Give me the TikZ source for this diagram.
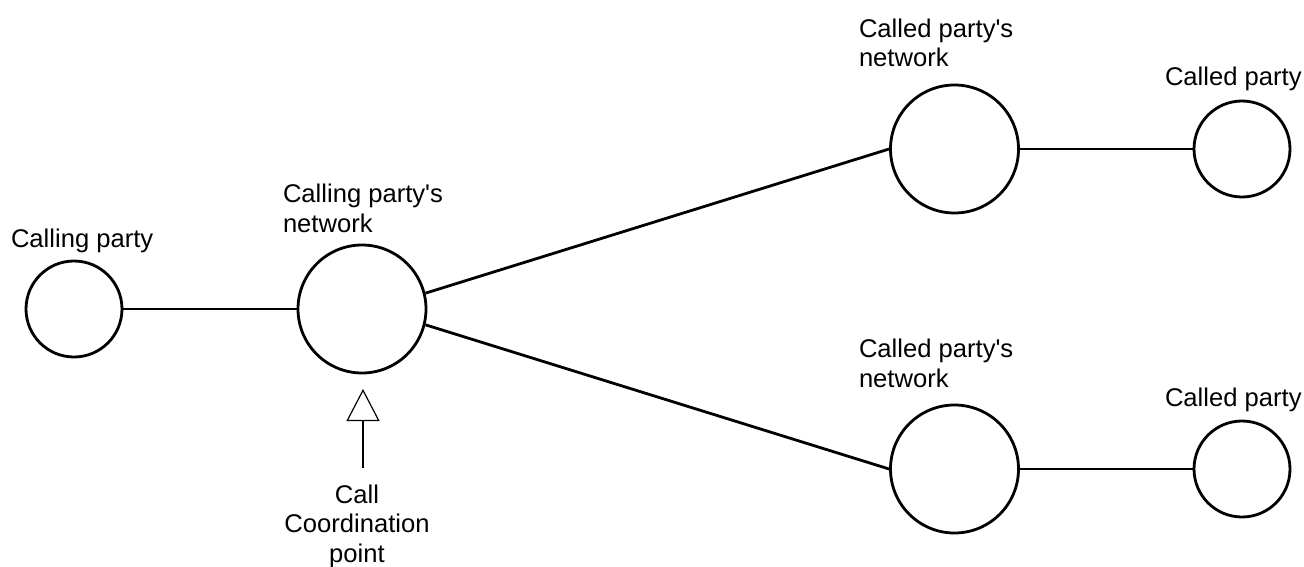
\documentclass[tikz,border=0pt]{standalone}
\usepackage{fontspec}
\setmainfont{Liberation Sans}
\usetikzlibrary{arrows.meta}
\begin{document}
\begin{tikzpicture}[x=1pt,y=-1pt,
  party/.style={draw, circle, line width=2.8pt, minimum size=96pt, inner sep=0pt},
  net/.style={draw, circle, line width=2.8pt, minimum size=128pt, inner sep=0pt},
  link/.style={line width=2.8pt},
  lbl/.style={inner sep=0pt, outer sep=0pt, align=left, anchor=base west,
    font=\fontsize{25.6}{29.5}\selectfont},
  ccarrow/.style={line width=1.2pt, -{Triangle[open, length=32pt, width=33pt]}}]
\useasboundingbox (0,0) rectangle (1304,567);
\node[party] (cp) at (74,309) {};
\node[net] (cpn) at (362,309) {};
\node[net] (dn1) at (954.5,149) {};
\node[party] (dp1) at (1242,149) {};
\node[net] (dn2) at (954.5,469) {};
\node[party] (dp2) at (1242,469) {};
\draw[link] (cp.east) -- (cpn.west);
\draw[link] (cpn.14.5) -- (dn1.west);
\draw[link] (cpn.-14.5) -- (dn2.west);
\draw[link] (dn1.east) -- (dp1.west);
\draw[link] (dn2.east) -- (dp2.west);
\node[lbl] (cpl) at (11,247) {Calling party};
\node[lbl] (cpnl) at (283,232) {Calling party\textquotesingle s\\network};
\node[lbl] (dn1l) at (859,67) {Called party\textquotesingle s\\network};
\node[lbl] (dn2l) at (859,387) {Called party\textquotesingle s\\network};
\node[lbl] (dp1l) at (1165,86) {Called party};
\node[lbl] (dp2l) at (1165,406) {Called party};
\node[lbl, align=center, anchor=base] (ccp) at (357,562) {Call\\Coordination\\point};
\coordinate (cctail) at (363,468);
\coordinate (cctip) at (363,389);
\draw[ccarrow] (cctail) -- (cctip);
\end{tikzpicture}
\end{document}
